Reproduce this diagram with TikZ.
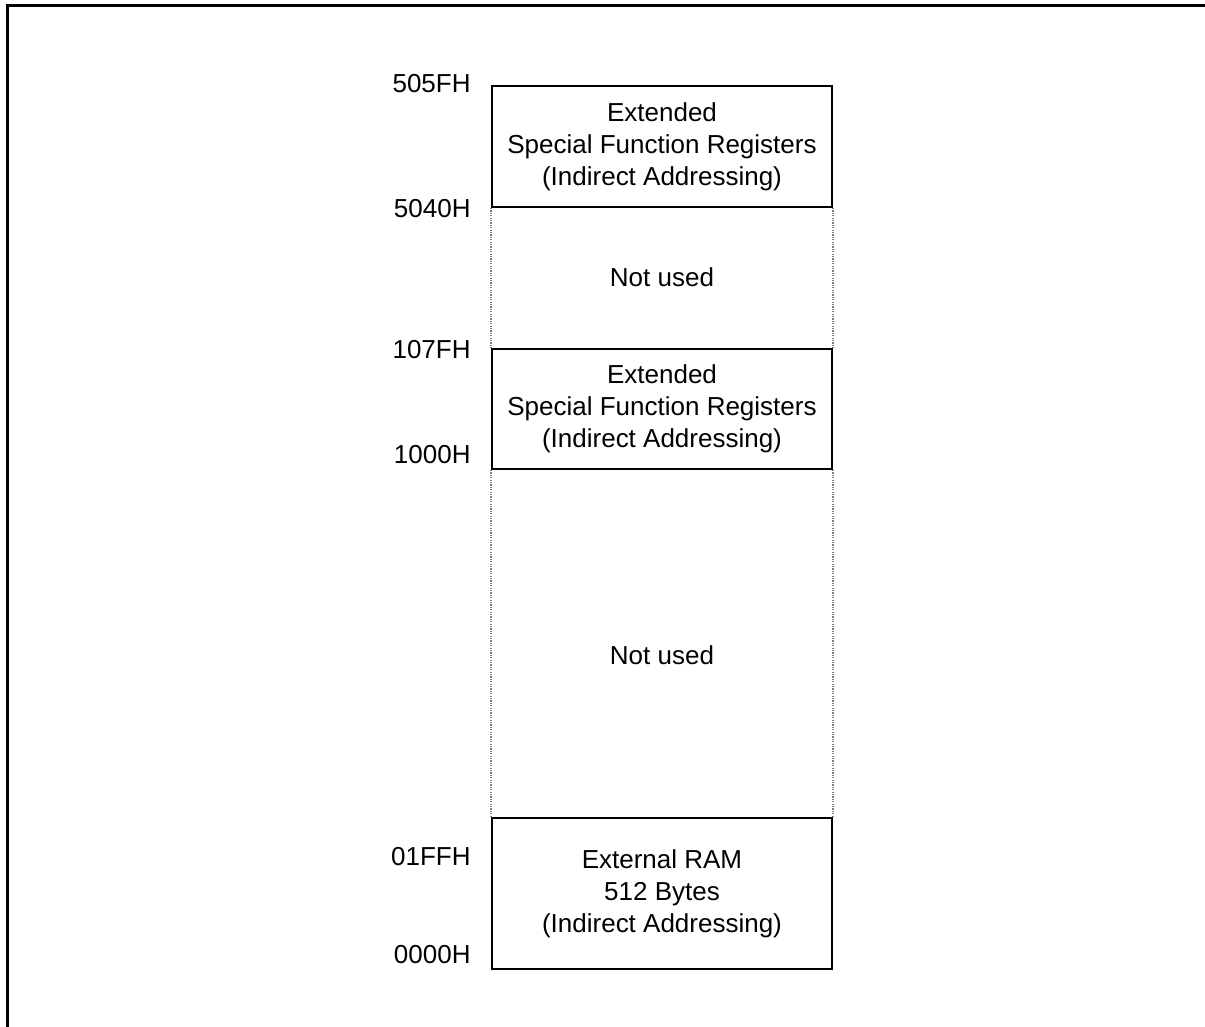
\documentclass[tikz,border=0pt]{standalone}
\usepackage{fontspec}
\setmainfont{Liberation Sans}
\begin{document}
\begin{tikzpicture}[x=0.5pt,y=-0.5pt,
  txt/.style={font=\fontsize{13}{16}\selectfont, inner sep=0pt},
  region/.style={draw, line width=1pt, minimum width=170pt, inner sep=0pt,
    align=center, font=\fontsize{13}{16}\selectfont},
  addr/.style={txt, anchor=east},
  gap/.style={draw=gray, line width=0.6pt, dash pattern=on 0.6pt off 0.6pt}]
\useasboundingbox (0,0) rectangle (1205,1027);
% outer frame
\draw[line width=1.5pt] (7.5,1027) -- (7.5,5.5) -- (1205,5.5);
% memory regions
\node[region, minimum height=60.5pt] (esfrhi) at (662,146.5)
  {Extended\\Special Function Registers\\(Indirect Addressing)};
\node[region, minimum height=60pt] (esfrlo) at (662,409)
  {Extended\\Special Function Registers\\(Indirect Addressing)};
\node[region, minimum height=75.5pt] (xram) at (662,893.5)
  {External RAM\\512 Bytes\\(Indirect Addressing)};
% unused address ranges
\draw[gap] (esfrhi.south west) -- (esfrlo.north west);
\draw[gap] (esfrhi.south east) -- (esfrlo.north east);
\draw[gap] (esfrlo.south west) -- (xram.north west);
\draw[gap] (esfrlo.south east) -- (xram.north east);
\node[txt] (free1) at (662,277) {Not used};
\node[txt] (free2) at (662,655) {Not used};
% address labels
\node[addr] (a505f) at (471,84) {505FH};
\node[addr] (a5040) at (471,209) {5040H};
\node[addr] (a107f) at (471,350) {107FH};
\node[addr] (a1000) at (471,455) {1000H};
\node[addr] (a01ff) at (471,857) {01FFH};
\node[addr] (a0000) at (471,955) {0000H};
\end{tikzpicture}
\end{document}
